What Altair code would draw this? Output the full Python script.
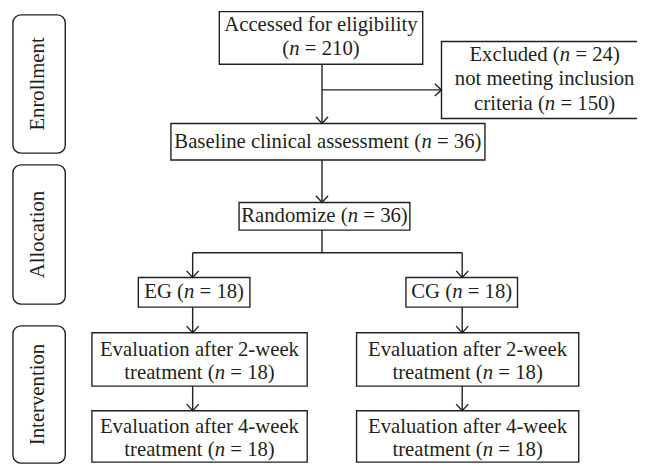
import altair as alt
import pandas as pd

INK = "#231f20"
FONT = "Liberation Serif, Times New Roman, Times, serif"
FS = 21

# ---- flowchart boxes (page pixel coordinates) ----
box_x0 = [222, 447, 173, 242, 140, 411, 93, 361, 93, 361]
box_x1 = [428, 656, 491, 415, 253, 524, 311, 586, 311, 586]
box_y0 = [8.8, 39, 122, 202, 278, 278, 334, 334, 413, 413]
box_y1 = [62, 117, 159, 230, 308, 308, 388, 388, 465, 465]

# ---- text lines: box, y, normal prefix, italic part, normal suffix ----
line_box = [0, 0, 1, 1, 1, 2, 3, 4, 5, 6, 6, 7, 7, 8, 8, 9, 9]
line_y = [22, 47, 53, 77, 102, 141, 216, 293, 293, 351, 375, 351, 375, 429, 453, 429, 453]
line_pre = ["Accessed for eligibility", "(", "Excluded (", "not meeting inclusion",
            "criteria (", "Baseline clinical assessment (", "Randomize (", "EG (", "CG (",
            "Evaluation after 2-week", "treatment (", "Evaluation after 2-week", "treatment (",
            "Evaluation after 4-week", "treatment (", "Evaluation after 4-week", "treatment ("]
line_it = ["", "n", "n", "", "n", "n", "n", "n", "n", "", "n", "", "n", "", "n", "", "n"]
line_post = ["", "= 210)", "= 24)", "", "= 150)", "= 36)", "= 36)", "= 18)", "= 18)",
             "", "= 18)", "", "= 18)", "", "= 18)", "", "= 18)"]

# ---- stage labels ----
stage_names = ["Enrollment", "Allocation", "Intervention"]
stage_y0 = [12, 164, 327]
stage_y1 = [152, 305, 466]
stage_x0, stage_x1 = 13, 66

# ---- connectors (x1, y1) -> (x2, y2), arrowhead at the end when flagged ----
conn_x1 = [326, 326, 326, 326, 195, 195, 468, 195, 468, 195, 468]
conn_y1 = [62, 88, 159, 230, 253, 253, 253, 308, 308, 388, 388]
conn_x2 = [326, 447, 326, 326, 468, 195, 468, 195, 468, 195, 468]
conn_y2 = [122, 88, 202, 253, 253, 278, 278, 334, 334, 413, 413]
conn_arrow = ["down", "right", "down", "", "", "down", "down", "down", "down", "down", "down"]

# Times/Liberation Serif advance widths (1/1000 em)
W = {" ": 250, "(": 333, ")": 333, "=": 564, "-": 333,
     "A": 722, "B": 667, "C": 667, "E": 611, "G": 722, "R": 667,
     "a": 444, "b": 500, "c": 444, "d": 500, "e": 444, "f": 333, "g": 500, "h": 500,
     "i": 278, "k": 500, "l": 278, "m": 778, "n": 500, "o": 500, "p": 500, "r": 333,
     "s": 389, "t": 278, "u": 500, "v": 500, "w": 722, "x": 500, "y": 500, "z": 444}
for d in "0123456789":
    W[d] = 500


def tw(s):
    return sum(W.get(c, 500) for c in s) / 1000.0 * FS


seg_rows = []
for b, y, pre, it, post in zip(line_box, line_y, line_pre, line_it, line_post):
    cx = (box_x0[b] + box_x1[b]) / 2.0
    gap = tw(" ") if post else 0
    total = tw(pre) + (tw(it) if it else 0) + gap + tw(post)
    start = cx - total / 2.0
    seg_rows.append({"x": start, "y": y, "t": pre, "s": "normal"})
    if it:
        seg_rows.append({"x": start + tw(pre), "y": y, "t": it, "s": "italic"})
    if post:
        seg_rows.append({"x": start + tw(pre) + tw(it) + gap, "y": y, "t": post, "s": "normal"})
segs = pd.DataFrame(seg_rows)

boxes = pd.DataFrame({"x0": box_x0, "x1": box_x1, "y0": box_y0, "y1": box_y1})
stages = pd.DataFrame({"name": stage_names, "y0": stage_y0, "y1": stage_y1,
                       "x0": stage_x0, "x1": stage_x1})
stages["yc"] = (stages["y0"] + stages["y1"]) / 2.0
stages["xc"] = 38.5
conns = pd.DataFrame({"x1": conn_x1, "y1": conn_y1, "x2": conn_x2, "y2": conn_y2,
                      "arrow": conn_arrow})

X = alt.Scale(domain=[8, 645], nice=False, zero=False)
Y = alt.Scale(domain=[8, 468], nice=False, zero=False, reverse=True)
NOAX = None
SW = 1.4

rules = alt.Chart(conns).mark_rule(color=INK, strokeWidth=SW).encode(
    x=alt.X("x1:Q", scale=X, axis=NOAX), y=alt.Y("y1:Q", scale=Y, axis=NOAX),
    x2="x2:Q", y2="y2:Q")

rects = alt.Chart(boxes).mark_rect(fill="white", stroke=INK, strokeWidth=SW, clip=True).encode(
    x=alt.X("x0:Q", scale=X, axis=NOAX), x2="x1:Q",
    y=alt.Y("y0:Q", scale=Y, axis=NOAX), y2="y1:Q")

stage_rects = alt.Chart(stages).mark_rect(fill="white", stroke=INK, strokeWidth=SW,
                                          cornerRadius=8).encode(
    x=alt.X("x0:Q", scale=X, axis=NOAX), x2="x1:Q",
    y=alt.Y("y0:Q", scale=Y, axis=NOAX), y2="y1:Q")

stage_text = alt.Chart(stages).mark_text(angle=270, align="center", baseline="middle",
                                         font=FONT, fontSize=FS, color=INK).encode(
    x=alt.X("xc:Q", scale=X, axis=NOAX), y=alt.Y("yc:Q", scale=Y, axis=NOAX), text="name:N")

heads_down = alt.Chart(conns).transform_filter(alt.datum.arrow == "down").mark_point(
    shape="M-1,-1.1L0,0L1,-1.1", size=150, filled=False, stroke=INK, strokeWidth=SW,
    opacity=1).encode(
    x=alt.X("x2:Q", scale=X, axis=NOAX), y=alt.Y("y2:Q", scale=Y, axis=NOAX))

heads_right = alt.Chart(conns).transform_filter(alt.datum.arrow == "right").mark_point(
    shape="M-1.1,-1L0,0L-1.1,1", size=150, filled=False, stroke=INK, strokeWidth=SW,
    opacity=1).encode(
    x=alt.X("x2:Q", scale=X, axis=NOAX), y=alt.Y("y2:Q", scale=Y, axis=NOAX))

txt_normal = alt.Chart(segs).transform_filter(alt.datum.s == "normal").mark_text(
    align="left", baseline="middle", font=FONT, fontSize=FS, color=INK).encode(
    x=alt.X("x:Q", scale=X, axis=NOAX), y=alt.Y("y:Q", scale=Y, axis=NOAX), text="t:N")

txt_italic = alt.Chart(segs).transform_filter(alt.datum.s == "italic").mark_text(
    align="left", baseline="middle", font=FONT, fontSize=FS, fontStyle="italic",
    color=INK).encode(
    x=alt.X("x:Q", scale=X, axis=NOAX), y=alt.Y("y:Q", scale=Y, axis=NOAX), text="t:N")

chart = alt.layer(rules, rects, stage_rects, stage_text, heads_down, heads_right,
                  txt_normal, txt_italic).properties(
    width=637, height=460, padding=0, autosize="none", background="white"
).configure_view(stroke=None)

chart.save("out.html", embed_options={"renderer": "svg", "actions": False})
